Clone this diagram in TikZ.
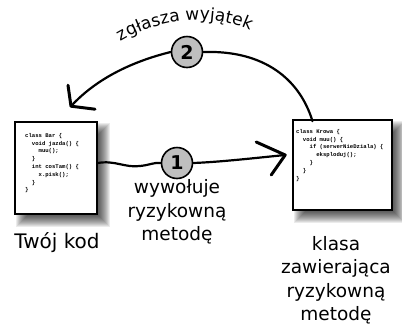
\documentclass[tikz,border=0pt]{standalone}
\usepackage{fontspec}
\setmainfont{DejaVu Sans}
\setmonofont{Liberation Mono}
\usetikzlibrary{decorations.text,calc}
\begin{document}
\begin{tikzpicture}[x=1pt,y=-1pt,
  box/.style={draw=black, line width=1.6pt, fill=white, inner sep=0pt},
  num/.style={circle, draw=black, line width=1.6pt, fill=black!25, minimum size=31pt, inner sep=0pt, font=\fontsize{19}{19}\selectfont\bfseries},
  wire/.style={line width=2.2pt, line cap=round, line join=round},
  tipline/.style={line width=3pt, line cap=round, line join=round},
  lbl/.style={font=\fontsize{18.5}{23.5}\selectfont, align=center},
  code/.style={font=\fontsize{5.6}{7.8}\selectfont\ttfamily\bfseries, align=left, anchor=north west, inner sep=0pt}
]
\useasboundingbox (0,0) rectangle (402,333);
% soft shadows
\foreach \i in {1,...,12} {
  \fill[black, opacity=0.08] (15+\i,122+\i) rectangle (97+14-\i,214+14-\i);
  \fill[black, opacity=0.08] (293+\i,120+\i) rectangle (392+14-\i,210+14-\i);
}
\node[box, minimum width=82pt, minimum height=92pt] (bar) at (56,168) {};
\node[box, minimum width=99pt, minimum height=90pt] (krowa) at (342.5,165) {};
\node[code] (barcode) at (25,133) {class Bar \{\\
\hspace*{1.2em}void jazda() \{\\
\hspace*{2.4em}muu();\\
\hspace*{1.2em}\}\\
\hspace*{1.2em}int cosTam() \{\\
\hspace*{2.4em}x.pisk();\\
\hspace*{1.2em}\}\\
\}};
\node[code] (krowacode) at (296,129) {class Krowa \{\\
\hspace*{1.2em}void muu() \{\\
\hspace*{2.4em}if (serwerNieDziala) \{\\
\hspace*{3.6em}eksploduj();\\
\hspace*{2.4em}\}\\
\hspace*{1.2em}\}\\
\}};
% numbered circles
\node[num] (n1) at (177,163) {1};
\node[num] (n2) at (187,52) {2};
% labels
\node[lbl, font=\fontsize{20}{24}\selectfont] (twoj) at (57,243) {Twój kod};
\node[lbl] (wyw) at (177,212) {wywołuje\\ryzykowną\\metodę};
\node[lbl] (klasa) at (336,280) {klasa\\zawierająca\\ryzykowną\\metodę};
% arrow 1
\coordinate (tip1) at ([xshift=-7pt,yshift=10pt]krowa.west);
\draw[wire] ([yshift=5pt]bar.east) .. controls (115,160) and (125,168) .. (140,166)
  .. controls (150,165) and (155,162) .. (n1.west);
\draw[wire] (n1.east) .. controls (220,162) and (255,158) .. (tip1);
\draw[tipline] ($(tip1)+(-29,-13)$) -- (tip1) -- ($(tip1)+(-14,20)$);
% arrow 2
\coordinate (tip2) at ([xshift=15pt,yshift=15pt]bar.north);
\draw[wire] ([xshift=-30pt,yshift=-2pt]krowa.north) .. controls (300,80) and (265,50) .. (n2.east);
\draw[wire] (n2.west) .. controls (130,62) and (95,80) .. (tip2);
\draw[tipline] ($(tip2)+(-3,-21)$) -- (tip2) -- ($(tip2)+(24,3)$);
% arched label
\path[decorate, decoration={text along path, text align=center,
  text={|\fontsize{17}{17}\selectfont|zgłasza wyjątek}}]
  (106,52) .. controls (150,16) and (222,8) .. (266,40);
\end{tikzpicture}
\end{document}
